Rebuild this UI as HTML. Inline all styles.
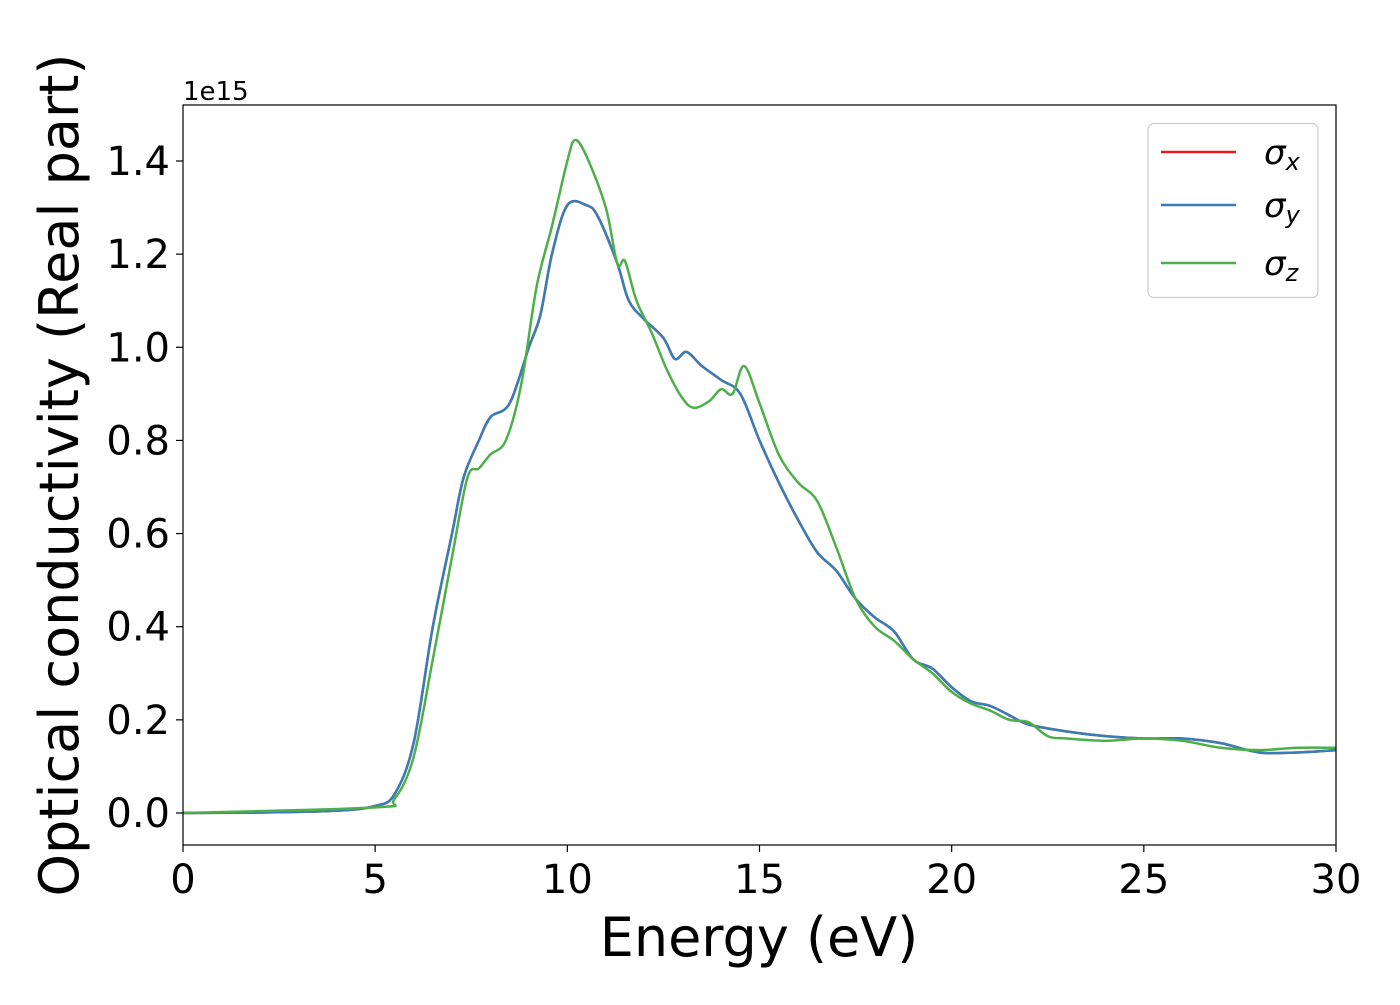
<!DOCTYPE html>
<html><head><meta charset="utf-8"><style>
html,body{margin:0;padding:0;background:#fff;}
text{font-family:"DejaVu Sans","Liberation Sans",sans-serif;}
</style></head><body>
<svg id="chart" width="1400" height="1000" xmlns="http://www.w3.org/2000/svg">
<g id="grid"></g>
<g id="series"></g>
<rect x="183" y="105" width="1153" height="740" fill="none" stroke="#000" stroke-width="1.2"/>
<text x="183" y="100" font-size="26">1e15</text>
<text x="759" y="956" font-size="54" text-anchor="middle">Energy (eV)</text>
<text transform="translate(78,475) rotate(-90)" font-size="54" text-anchor="middle">Optical conductivity (Real part)</text>
<g>
<rect x="1148" y="123.5" width="170" height="174" rx="6" fill="#fff" stroke="#ccc" stroke-width="1.2"/>
<line x1="1161" y1="152" x2="1236" y2="152" stroke="#e41a1c" stroke-width="2.5"/>
<line x1="1161" y1="205" x2="1236" y2="205" stroke="#377eb8" stroke-width="2.5"/>
<line x1="1161" y1="263" x2="1236" y2="263" stroke="#4daf4a" stroke-width="2.5"/>
<text x="1264" y="164" font-size="34" font-style="italic">σ<tspan font-size="24" dy="6">x</tspan></text>
<text x="1264" y="217" font-size="34" font-style="italic">σ<tspan font-size="24" dy="6">y</tspan></text>
<text x="1264" y="275" font-size="34" font-style="italic">σ<tspan font-size="24" dy="6">z</tspan></text>
</g>
</svg>
<script>
const xTicks=[0,5,10,15,20,25,30];
const yTicks=[0,0.2,0.4,0.6,0.8,1.0,1.2,1.4];
const eBlue=[0,2,4,5,5.5,6,6.5,7,7.3,7.7,8,8.5,9,9.3,9.6,10,10.5,10.8,11.3,11.6,12,12.5,12.8,13.1,13.5,14,14.5,15,15.5,16,16.5,17,17.5,18,18.5,19,19.5,20,20.5,21,21.5,22,23,24,25,26,27,28,29,30];
const sigY=[0,0.001,0.005,0.015,0.04,0.15,0.4,0.6,0.72,0.8,0.85,0.88,1.0,1.07,1.2,1.305,1.305,1.28,1.18,1.1,1.06,1.02,0.975,0.99,0.96,0.93,0.9,0.8,0.71,0.63,0.56,0.52,0.46,0.42,0.39,0.33,0.31,0.27,0.24,0.23,0.21,0.19,0.175,0.165,0.16,0.16,0.15,0.13,0.13,0.135];
const sigX=sigY.slice();
const eGreen=[0,5,5.5,6,6.5,7,7.4,7.7,8,8.4,8.8,9.2,9.6,10,10.2,10.5,11,11.3,11.5,11.8,12.2,12.6,13,13.3,13.7,14,14.3,14.6,15,15.5,16,16.5,17,17.5,18,18.5,19,19.5,20,20.5,21,21.5,22,22.5,23,24,25,26,27,28,29,30];
const sigZ=[0,0.012,0.03,0.12,0.33,0.55,0.72,0.74,0.77,0.8,0.92,1.13,1.26,1.4,1.445,1.41,1.3,1.18,1.185,1.1,1.03,0.95,0.89,0.87,0.885,0.91,0.9,0.96,0.88,0.77,0.71,0.67,0.57,0.46,0.4,0.37,0.33,0.3,0.26,0.235,0.22,0.2,0.195,0.165,0.16,0.155,0.16,0.155,0.14,0.135,0.14,0.14];
const NS="http://www.w3.org/2000/svg";
const X0=183,X1=1336,Y0=813,YS=(813-161)/1.4;
const sx=v=>X0+(v/30)*(X1-X0);
const sy=v=>Y0-v*YS;
const g=document.getElementById('grid'),s=document.getElementById('series');
function mk(tag,attrs,parent){const e=document.createElementNS(NS,tag);for(const k in attrs)e.setAttribute(k,attrs[k]);parent.appendChild(e);return e;}
xTicks.forEach(t=>{
 const l=mk('line',{x1:sx(t),x2:sx(t),y1:845,y2:852,stroke:'#000','stroke-width':1.2},g);
 
 
 const tx=mk('text',{x:sx(t),y:893,'font-size':40,'text-anchor':'middle'},g);tx.textContent=t;
 
 
});
yTicks.forEach(t=>{
 const l=mk('line',{x1:176,x2:183,y1:sy(t),y2:sy(t),stroke:'#000','stroke-width':1.2},g);
 
 
 const tx=mk('text',{x:170,y:sy(t)+14,'font-size':40,'text-anchor':'end'},g);tx.textContent=t.toFixed(1);
 
 
});
function pathD(xs,ys){
 const p=xs.map((x,i)=>[sx(x),sy(ys[i])]);
 let d='M'+p[0][0]+','+p[0][1];
 for(let i=0;i<p.length-1;i++){
  const a=p[Math.max(0,i-1)],b=p[i],c=p[i+1],e=p[Math.min(p.length-1,i+2)];
  const c1=[b[0]+(c[0]-a[0])/6,b[1]+(c[1]-a[1])/6],c2=[c[0]-(e[0]-b[0])/6,c[1]-(e[1]-b[1])/6];
  d+=' C'+c1+' '+c2+' '+c;
 }
 return d;
}
[[eBlue,sigX,'#e41a1c','series-sigma-x'],[eBlue,sigY,'#377eb8','series-sigma-y'],[eGreen,sigZ,'#4daf4a','series-sigma-z']].forEach(([xs,ys,c,n])=>{
 const p=mk('path',{d:pathD(xs,ys),fill:'none',stroke:c,'stroke-width':2.5},s);
 
 
});
</script>
</body></html>
